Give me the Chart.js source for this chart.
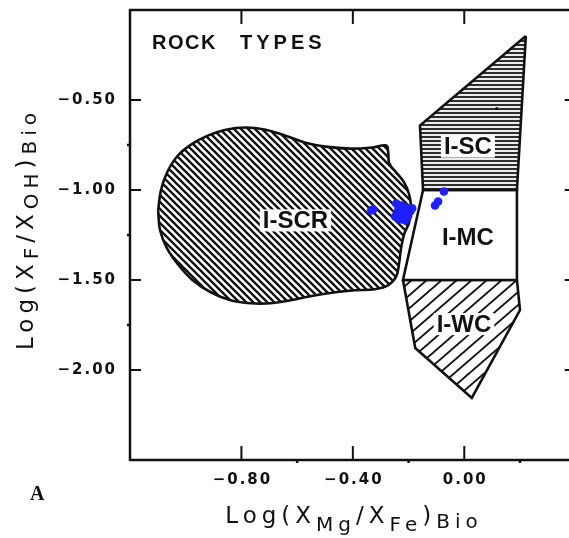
<!DOCTYPE html>
<html>
<head>
<meta charset="utf-8">
<script src="https://cdn.jsdelivr.net/npm/chart.js@4.4.1/dist/chart.umd.min.js"></script>
<style>
  html, body { margin: 0; padding: 0; background: #fff; overflow: hidden; width: 569px; height: 538px; }
  #wrap { width: 580px; height: 538px; position: relative; }
</style>
</head>
<body>
<div id="wrap"><canvas id="c" width="580" height="538"></canvas></div>
<script>
// Axis ticks
const xTicks = [-0.80, -0.40, 0.00];
const yTicks = [-0.50, -1.00, -1.50, -2.00];
const xMinor = [-0.60, -0.20, 0.20];
const yMinor = [-0.75, -1.25, -1.75];

// Biotite analyses
const sampleX = [-0.334, -0.327, -0.244, -0.226, -0.209, -0.194, -0.237, -0.219, -0.202, -0.248, -0.230, -0.212, -0.187, -0.234, -0.105, -0.094, -0.073];
const sampleY = [-1.113, -1.108, -1.075, -1.086, -1.097, -1.119, -1.113, -1.130, -1.147, -1.147, -1.163, -1.169, -1.102, -1.097, -1.086, -1.064, -1.008];

// Isolated mark inside the I-SC field
const markX = [0.117];
const markY = [-0.548];

// Field outlines
const scrX = [-1.099, -1.089, -1.067, -1.031, -0.981, -0.921, -0.856, -0.785, -0.713, -0.642, -0.570, -0.498, -0.409, -0.330, -0.280, -0.273, -0.269, -0.244, -0.216, -0.198, -0.191, -0.198, -0.216, -0.227, -0.234, -0.244, -0.273, -0.320, -0.391, -0.463, -0.552, -0.624, -0.695, -0.767, -0.839, -0.910, -0.975, -1.025, -1.067, -1.092];
const scrY = [-1.113, -1.002, -0.903, -0.814, -0.748, -0.698, -0.665, -0.653, -0.665, -0.698, -0.737, -0.759, -0.770, -0.764, -0.753, -0.792, -0.853, -0.903, -0.958, -1.025, -1.097, -1.180, -1.246, -1.324, -1.407, -1.479, -1.529, -1.551, -1.557, -1.568, -1.590, -1.612, -1.629, -1.629, -1.612, -1.568, -1.501, -1.418, -1.324, -1.224];
const scX = [0.221, -0.159, -0.148, 0.189];
const scY = [-0.144, -0.642, -1.00, -1.00];
const mcX = [-0.148, 0.189, 0.189, -0.220];
const mcY = [-1.00, -1.00, -1.50, -1.50];
const wcX = [-0.220, 0.189, 0.200, 0.027, -0.176];
const wcY = [-1.50, -1.50, -1.667, -2.155, -1.878];

// Field names and where they are written
const fieldNames = ['I-SCR', 'I-SC', 'I-MC', 'I-WC'];
const fieldLabelX = [-0.606, 0.013, 0.013, -0.001];
const fieldLabelY = [-1.169, -0.759, -1.263, -1.745];

const canvas = document.getElementById('c');
const ctx = canvas.getContext('2d');

function ring(xs, ys) {
  const pts = xs.map((x, i) => ({ x, y: ys[i] }));
  pts.push({ x: xs[0], y: ys[0] });
  return pts;
}

// Line-hatch pattern: long strokes through each tile so neighbouring tiles join cleanly
function hatch(w, h, dir, lw, color) {
  const c = document.createElement('canvas');
  c.width = w; c.height = h;
  const g = c.getContext('2d');
  g.fillStyle = '#fff';
  g.fillRect(0, 0, w, h);
  g.strokeStyle = color;
  g.lineWidth = lw;
  g.beginPath();
  for (let k = -2; k <= 2; k++) {
    if (dir === '/') { g.moveTo(k * w - w, 2 * h); g.lineTo(k * w + 2 * w, -h); }
    else { g.moveTo(k * w - w, -h); g.lineTo(k * w + 2 * w, 2 * h); }
  }
  g.stroke();
  return ctx.createPattern(c, 'repeat');
}

function stripes() {
  const c = document.createElement('canvas');
  c.width = 4; c.height = 4;
  const g = c.getContext('2d');
  g.fillStyle = '#ececec';
  g.fillRect(0, 0, 4, 4);
  g.fillStyle = '#2e2e2e';
  g.fillRect(0, 0, 4, 2);
  return ctx.createPattern(c, 'repeat');
}

const patSCR = hatch(7, 7, '\\', 2.3, '#111');
const patWC = hatch(15, 13, '/', 1.8, '#111');
const patSC = stripes();

// Draws a run of text pieces (normal + lowered subscripts) centred on x
function richText(c, parts, x, y, spacing) {
  c.letterSpacing = spacing + 'px';
  let total = 0;
  const widths = parts.map(p => { c.font = p.font; const w = c.measureText(p.t).width; total += w; return w; });
  let cx = x - total / 2;
  c.textAlign = 'left';
  c.textBaseline = 'alphabetic';
  parts.forEach((p, i) => {
    c.font = p.font;
    c.fillText(p.t, cx, y + (p.dy || 0));
    cx += widths[i];
  });
  c.letterSpacing = '0px';
}

const frame = {
  id: 'frame',
  afterDatasetsDraw(chart) {
    const c = chart.ctx;
    const xs = chart.scales.x, ys = chart.scales.y;
    const a = chart.chartArea;
    c.save();
    c.strokeStyle = '#111';
    c.fillStyle = '#111';

    // field names with a white backing
    c.font = 'bold 24px "Liberation Sans", Arial, sans-serif';
    c.textAlign = 'center';
    c.textBaseline = 'middle';
    fieldNames.forEach((n, i) => {
      const px = xs.getPixelForValue(fieldLabelX[i]);
      const py = ys.getPixelForValue(fieldLabelY[i]);
      const w = c.measureText(n).width;
      c.fillStyle = '#fff';
      c.fillRect(px - w / 2 - 3, py - 11, w + 6, 22);
      c.fillStyle = '#111';
      c.fillText(n, px, py + 1);
    });

    // plot frame
    c.lineWidth = 2.5;
    c.strokeRect(a.left, a.top, a.right - a.left, a.bottom - a.top);

    // inward major ticks on all four sides
    c.lineWidth = 2;
    c.beginPath();
    xTicks.forEach(v => {
      const px = xs.getPixelForValue(v);
      c.moveTo(px, a.bottom); c.lineTo(px, a.bottom - 14);
      c.moveTo(px, a.top); c.lineTo(px, a.top + 14);
    });
    yTicks.forEach(v => {
      const py = ys.getPixelForValue(v);
      c.moveTo(a.left, py); c.lineTo(a.left + 11, py);
      c.moveTo(a.right, py); c.lineTo(a.right - 11, py);
    });
    c.stroke();

    // small minor ticks
    c.lineWidth = 2.5;
    c.beginPath();
    xMinor.forEach(v => {
      const px = xs.getPixelForValue(v);
      c.moveTo(px, a.bottom); c.lineTo(px, a.bottom + 3);
    });
    yMinor.forEach(v => {
      const py = ys.getPixelForValue(v);
      c.moveTo(a.left, py); c.lineTo(a.left - 3, py);
    });
    c.stroke();

    // tick labels
    const fmt = v => (v < 0 ? '\u2212' : '') + Math.abs(v).toFixed(2);
    c.font = 'bold 15px "DejaVu Sans", sans-serif';
    c.letterSpacing = '2px';
    c.textBaseline = 'middle';
    c.textAlign = 'right';
    yTicks.forEach(v => c.fillText(fmt(v), 117, ys.getPixelForValue(v)));
    c.textAlign = 'center';
    xTicks.forEach(v => c.fillText(fmt(v), xs.getPixelForValue(v) + 1, 480));
    c.letterSpacing = '0px';

    // axis titles
    const big = '23px "DejaVu Sans", sans-serif';
    const sub = '20px "DejaVu Sans", sans-serif';
    richText(c, [
      { t: 'Log(X', font: big },
      { t: 'Mg', font: sub, dy: 8 },
      { t: '/X', font: big },
      { t: 'Fe', font: sub, dy: 8 },
      { t: ')', font: big },
      { t: 'Bio', font: sub, dy: 5 }
    ], 354, 523, 5);

    c.save();
    c.translate(33, 229);
    c.rotate(-Math.PI / 2);
    richText(c, [
      { t: 'Log(X', font: big },
      { t: 'F', font: sub, dy: 5 },
      { t: '/X', font: big },
      { t: 'OH', font: sub, dy: 5 },
      { t: ')', font: big },
      { t: 'Bio', font: sub, dy: 3 }
    ], 0, 0, 5);
    c.restore();

    // heading and panel letter
    c.textAlign = 'left';
    c.textBaseline = 'alphabetic';
    c.font = 'bold 20px "Liberation Sans", Arial, sans-serif';
    c.letterSpacing = '1.5px';
    c.fillText('ROCK', 152, 49);
    c.letterSpacing = '4px';
    c.fillText('TYPES', 240, 49);
    c.letterSpacing = '0px';
    c.font = 'bold 20px "Liberation Serif", "Times New Roman", serif';
    c.fillText('A', 30, 500);
    c.restore();
  }
};

new Chart(canvas, {
  type: 'scatter',
  data: {
    datasets: [
      {
        label: 'Biotite',
        data: sampleX.map((x, i) => ({ x, y: sampleY[i] })),
        backgroundColor: '#1f1fff',
        borderWidth: 0,
        pointRadius: 4.3,
        order: 0
      },
      {
        label: 'mark',
        data: markX.map((x, i) => ({ x, y: markY[i] })),
        backgroundColor: '#000',
        borderWidth: 0,
        pointStyle: 'rect',
        pointRadius: 1.8,
        order: 0
      },
      {
        label: 'I-SCR',
        data: ring(scrX, scrY),
        showLine: true,
        fill: 'shape',
        backgroundColor: patSCR,
        borderColor: '#111',
        borderWidth: 2.6,
        tension: 0.4,
        pointRadius: 0,
        order: 2
      },
      {
        label: 'I-SC',
        data: ring(scX, scY),
        showLine: true,
        fill: 'shape',
        backgroundColor: patSC,
        borderColor: '#111',
        borderWidth: 2.6,
        tension: 0,
        pointRadius: 0,
        order: 2
      },
      {
        label: 'I-MC',
        data: ring(mcX, mcY),
        showLine: true,
        fill: 'shape',
        backgroundColor: '#fff',
        borderColor: '#111',
        borderWidth: 2.6,
        tension: 0,
        pointRadius: 0,
        order: 2
      },
      {
        label: 'I-WC',
        data: ring(wcX, wcY),
        showLine: true,
        fill: 'shape',
        backgroundColor: patWC,
        borderColor: '#111',
        borderWidth: 2.6,
        tension: 0,
        pointRadius: 0,
        order: 2
      }
    ]
  },
  options: {
    responsive: false,
    devicePixelRatio: 1,
    animation: false,
    events: [],
    layout: { padding: { left: 130, right: 4, top: 10, bottom: 78 } },
    plugins: { legend: { display: false }, tooltip: { enabled: false } },
    scales: {
      x: { type: 'linear', min: -1.2, max: 0.4, display: false },
      y: { type: 'linear', min: -2.5, max: 0, display: false }
    }
  },
  plugins: [frame]
});
</script>
</body>
</html>
